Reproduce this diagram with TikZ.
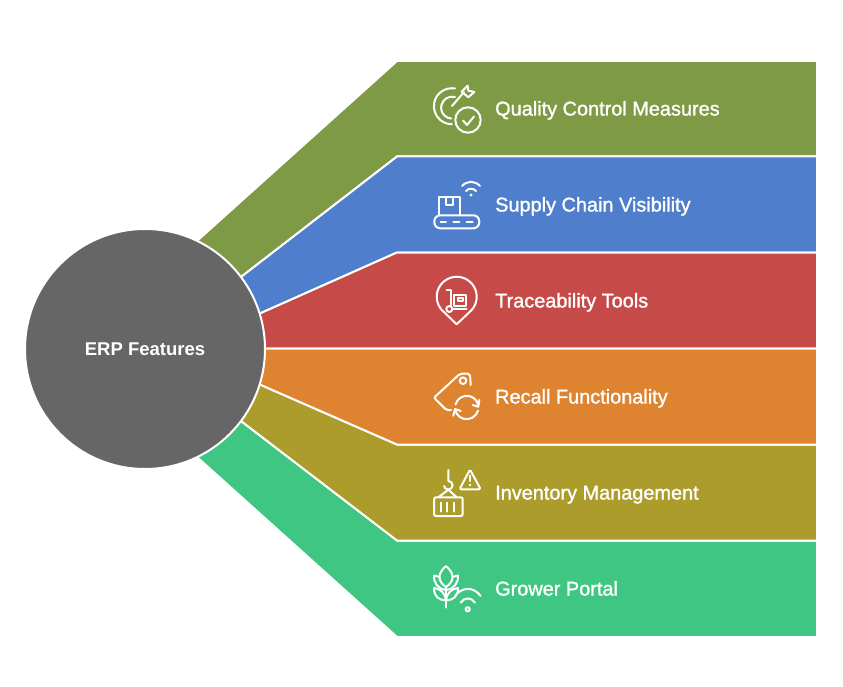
\documentclass[tikz,border=0pt]{standalone}
\usepackage{fontspec}
\setmainfont[FakeBold=1.3]{Liberation Sans}
\newfontfamily\hubfamily{Liberation Sans}
\definecolor{bandone}{HTML}{7F9A45}
\definecolor{bandtwo}{HTML}{4F7FCC}
\definecolor{bandthree}{HTML}{C64B48}
\definecolor{bandfour}{HTML}{DE832F}
\definecolor{bandfive}{HTML}{AC9C2B}
\definecolor{bandsix}{HTML}{3EC682}
\definecolor{hubgray}{HTML}{666666}
\tikzset{
  band/.style={draw=white,line width=2pt,line join=miter},
  hubnode/.style={circle,fill=hubgray,draw=white,line width=2pt,minimum size=240pt,inner sep=0pt,text=white},
  label/.style={anchor=base west,inner sep=0pt,text=white},
  icon/.style={draw=white,line width=2pt,line cap=round,line join=round}
}
\newcommand{\bandfont}{\fontsize{19.9}{24}\selectfont}
\newcommand{\hubfont}{\hubfamily\fontsize{18.5}{22}\selectfont\bfseries}
\begin{document}
\begin{tikzpicture}[x=1pt,y=-1pt]
\useasboundingbox (0,0) rectangle (843,687);
% bands
\draw[band,fill=bandsix] (145,349) -- (198,458) -- (397,637) -- (817,637) -- (817,540.5) -- (397,540.5) -- (241,421) -- cycle;
\draw[band,fill=bandone] (145,349) -- (198,240) -- (397,61) -- (817,61) -- (817,156.5) -- (397,156.5) -- (241,277) -- cycle;
\draw[band,fill=bandtwo] (145,349) -- (241,277) -- (397,156.5) -- (817,156.5) -- (817,252.5) -- (397,252.5) -- (261,313) -- cycle;
\draw[band,fill=bandfive] (145,349) -- (241,421) -- (397,540.5) -- (817,540.5) -- (817,444.5) -- (397,444.5) -- (261,385) -- cycle;
\draw[band,fill=bandthree] (145,349) -- (261,313) -- (397,252.5) -- (817,252.5) -- (817,348.5) -- (145,348.5) -- cycle;
\draw[band,fill=bandfour] (145,349) -- (261,385) -- (397,444.5) -- (817,444.5) -- (817,348.5) -- (145,348.5) -- cycle;
\node (hub) at (145,349) [hubnode] {\hubfont ERP Features};
% labels
\node (quality) at (495,115.5) [label] {\bandfont Quality Control Measures};
\node (supply) at (495,211.5) [label] {\bandfont Supply Chain Visibility};
\node (trace) at (495,307.5) [label] {\bandfont Traceability Tools};
\node (recall) at (495,403.5) [label] {\bandfont Recall Functionality};
\node (inventory) at (495,499.5) [label] {\bandfont Inventory Management};
\node (grower) at (495,595.5) [label] {\bandfont Grower Portal};
% target icon
\draw[icon] (455,88.5) arc[start angle=-80,end angle=-270,radius=18] ;
\draw[icon] (455,97) arc[start angle=-75,end angle=-265,radius=11];
\draw[icon] (452,106) -- (464,92);
\draw[icon] (467.7,85.7) -- (468.3,90.7) -- (474.3,92) -- (468.3,97.3) -- (461.7,91.7) -- cycle;
\draw[icon] (468,120) circle[radius=12.7];
\draw[icon] (463,120.5) -- (467,125) -- (474,116.5);
% conveyor icon
\draw[icon] (439.3,215.3) -- (439.3,197.3) -- (460,197.3) -- (460,215.3);
\draw[icon] (446,197.3) -- (446,205) -- (453.3,205) -- (453.3,197.3);
\draw[icon,rounded corners=6pt] (434.3,215.3) rectangle (479.3,228.3);
\draw[icon] (440.7,221.7) -- (446,221.7);
\draw[icon] (453.3,221.7) -- (459.3,221.7);
\draw[icon] (466.7,221.7) -- (472.7,221.7);
\draw[icon] (462,186) .. controls (467,180.5) and (475,180.5) .. (480,186);
\draw[icon] (466,191) .. controls (468.5,188) and (473.5,188) .. (476,191);
\fill[white] (471,195) circle[radius=1.6];
% pin icon
\draw[icon] (456.7,324.3) -- (441.4,309.6) arc[start angle=140,end angle=400,radius=20] -- cycle;
\draw[icon] (446.7,290) -- (450.7,290) -- (450.7,306);
\draw[icon] (449.3,309) circle[radius=3];
\draw[icon] (452.3,309) -- (466.7,309);
\draw[icon] (454.3,295) rectangle (466,305.7);
\draw[icon] (458.3,298.3) rectangle (462.7,300.7);
% tag icon
\draw[icon,rounded corners=2pt] (470.7,385) -- (470,373.7) -- (460,373.7) -- (434,397.7) -- (446.7,410.3) -- (451,410);
\draw[icon] (463,380.7) circle[radius=3.3];
\draw[icon] (455.5,404.5) arc[start angle=195,end angle=345,radius=11.7];
\draw[icon] (479.3,400) -- (478.3,406.7) -- (472.7,405);
\draw[icon] (478,410.5) arc[start angle=15,end angle=165,radius=11.7];
\draw[icon] (453.3,415.7) -- (455,409) -- (460.7,411);
% crane icon
\draw[icon] (448.3,470) -- (448.3,481) arc[start angle=-90,end angle=170,radius=4.3];
\draw[icon] (438.3,497.3) -- (448.3,489.7) -- (456.7,497.3);
\draw[icon,rounded corners=2pt] (434,497.3) rectangle (462.7,516);
\draw[icon] (440.7,502.7) -- (440.7,511.7);
\draw[icon] (447.3,502.7) -- (447.3,511.7);
\draw[icon] (454.3,502.7) -- (454.3,511.7);
\draw[icon,rounded corners=1.5pt] (470,469.5) -- (480.7,489.3) -- (459.5,489.3) -- cycle;
\draw[icon] (470,475.7) -- (470,481);
\fill[white] (470,485) circle[radius=1.3];
% plant icon
\draw[icon] (446,587) -- (446,607.7);
\draw[icon] (446,566) .. controls (441,570) and (439,575) .. (439.5,578) .. controls (440,582) and (443,585) .. (446,587) .. controls (449,585) and (452,582) .. (452.5,578) .. controls (453,575) and (451,570) .. (446,566) -- cycle;
\draw[icon] (434,575.5) .. controls (433.5,583) and (438,589) .. (446,590);
\draw[icon] (434,575.5) -- (439.5,577);
\draw[icon] (458,575.5) .. controls (458.5,583) and (454,589) .. (446,590);
\draw[icon] (458,575.5) -- (452.5,577);
\draw[icon] (434,588) .. controls (434,597) and (439,600) .. (446,600.5) .. controls (445,593) and (441,589) .. (434,588) -- cycle;
\draw[icon] (458,588) .. controls (458,597) and (453,600) .. (446,600.5) .. controls (447,593) and (451,589) .. (458,588);
\draw[icon] (455,596) .. controls (462,586.5) and (473.5,586.5) .. (480.7,596);
\draw[icon] (460.7,602.7) .. controls (464,597) and (471.5,597) .. (475,602.7);
\draw[icon] (467.7,609.3) circle[radius=2.1];
\end{tikzpicture}
\end{document}
